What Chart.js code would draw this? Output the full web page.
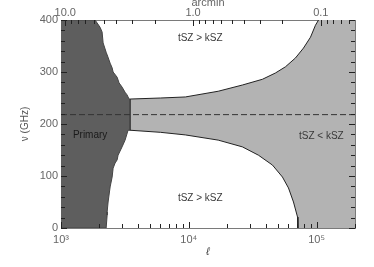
<!DOCTYPE html>
<html>
<head>
<meta charset="utf-8">
<script src="https://cdn.jsdelivr.net/npm/chart.js@4/dist/chart.umd.min.js"></script>
<style>
    body { margin: 0; background: #fff; }
    #wrap { width: 374px; height: 267px; }
</style>
</head>
<body>
<div id="wrap"><canvas id="regions" width="374" height="267"></canvas></div>
<script>
// multipole range and tick sets
const ELL_MIN = 1000;
const ELL_MAX = 200000;
const ellDecades = [1000, 10000, 100000];
const ellDecadeLabels = ["10³", "10⁴", "10⁵"];
const arcDecades = [0.01, 0.1, 1, 10];
const arcDecadeLabels = ["0.01", "0.1", "1.0", "10.0"];
const logSteps = [1, 2, 3, 4, 5, 6, 7, 8, 9];

// primary CMB region boundary (ell, nu), read top to bottom
const primaryEll = [1000, 1848, 2022, 2097, 2136, 2256, 2297, 2424, 2513, 2558, 2750, 2848, 3006, 3174, 3289, 3409, 3476,
    3476, 3348, 3174, 3006, 2798, 2750, 2651, 2558, 2513, 2424, 2337, 2297, 2297, 2256, 1000];
const primaryNu = [400, 400, 386, 377, 356, 338, 333, 317, 308, 300, 290, 279, 271, 261, 256, 248, 248,
    188, 188, 169, 156, 140, 131, 125, 115, 98, 79, 50, 31, 25, 0, 0];

// tSZ = kSZ boundaries (upper and lower branch)
const upperEll = [3476, 6000, 9400, 17000, 26300, 37700, 47600, 57100, 68400, 79000, 89700, 98100, 103700];
const upperNu = [248, 250, 252, 263, 275, 286, 298, 310, 327, 346, 367, 390, 400];
const lowerEll = [3476, 6000, 9400, 17000, 26300, 35100, 45200, 54100, 60300, 66000, 71000, 71500];
const lowerNu = [188, 184, 179, 169, 156, 140, 121, 98, 77, 50, 21, 0];

// tSZ null frequency
const nullNu = 218;

// region labels
const noteText = ["tSZ > kSZ", "Primary", "tSZ < kSZ", "tSZ > kSZ"];
const noteEll = [12300, 1690, 109000, 12300];
const noteNu = [365, 178, 177, 58];
const noteColor = ["#3a3a3a", "#1a1a1a", "#3a3a3a", "#3a3a3a"];

const DARK = "#5e5e5e";
const LIGHT = "#b3b3b3";
const AXIS = "#7a7a7a";
const TICK = "#222222";
const TEXT = "#666666";

Chart.defaults.font.family = "'Liberation Sans', Arial, sans-serif";

function pts(xs, ys) {
    return xs.map((x, i) => ({ x: x, y: ys[i] }));
}

function logTicks(decades, lo, hi) {
    const out = [];
    decades.forEach((d) => {
        logSteps.forEach((s) => {
            const v = +(d * s).toPrecision(6);
            if (v >= lo * 0.999 && v <= hi * 1.001) out.push({ value: v, major: s === 1 });
        });
    });
    return out;
}

const lightShape = pts(upperEll, upperNu)
    .concat([{ x: ELL_MAX, y: 400 }, { x: ELL_MAX, y: 0 }])
    .concat(pts(lowerEll, lowerNu).reverse());

// inward tick marks like the original plot
const inwardTicks = {
    id: "inwardTicks",
    afterDatasetsDraw(chart) {
        const { ctx, chartArea: a } = chart;
        ctx.save();
        ctx.strokeStyle = TICK;
        ctx.lineWidth = 1;
        ["x", "x2", "y", "y2"].forEach((id) => {
            const s = chart.scales[id];
            s.ticks.forEach((t) => {
                const major = s.type === "linear" ? t.value % 100 === 0 : t.major;
                const len = major ? 6 : 4;
                const p = Math.round(s.getPixelForValue(t.value)) + 0.5;
                ctx.beginPath();
                if (id === "x") { ctx.moveTo(p, a.bottom); ctx.lineTo(p, a.bottom - len); }
                if (id === "x2") { ctx.moveTo(p, a.top); ctx.lineTo(p, a.top + len); }
                if (id === "y") { ctx.moveTo(a.left, p); ctx.lineTo(a.left + len, p); }
                if (id === "y2") { ctx.moveTo(a.right, p); ctx.lineTo(a.right - len, p); }
                ctx.stroke();
            });
        });
        ctx.restore();
    },
};

const regionNotes = {
    id: "regionNotes",
    afterDatasetsDraw(chart) {
        const { ctx } = chart;
        const sx = chart.scales.x, sy = chart.scales.y;
        ctx.save();
        ctx.font = "10px 'Liberation Sans', Arial, sans-serif";
        ctx.textAlign = "center";
        ctx.textBaseline = "middle";
        noteText.forEach((txt, i) => {
            ctx.fillStyle = noteColor[i];
            ctx.fillText(txt, sx.getPixelForValue(noteEll[i]), sy.getPixelForValue(noteNu[i]));
        });
        ctx.restore();
    },
};

new Chart(document.getElementById("regions"), {
    type: "line",
    data: {
        datasets: [
            {
                data: [{ x: ELL_MIN, y: nullNu }, { x: ELL_MAX, y: nullNu }],
                borderColor: "#333",
                borderWidth: 1,
                borderDash: [6, 3],
                pointRadius: 0,
                fill: false,
            },
            {
                data: pts(upperEll, upperNu),
                borderColor: "#222",
                borderWidth: 1,
                pointRadius: 0,
                fill: false,
            },
            {
                data: pts(lowerEll, lowerNu),
                borderColor: "#222",
                borderWidth: 1,
                pointRadius: 0,
                fill: false,
            },
            {
                data: pts(primaryEll, primaryNu),
                borderColor: "#444",
                borderWidth: 1,
                backgroundColor: DARK,
                pointRadius: 0,
                fill: "shape",
            },
            {
                data: lightShape,
                borderWidth: 0,
                backgroundColor: LIGHT,
                pointRadius: 0,
                fill: "shape",
            },
        ],
    },
    options: {
        responsive: false,
        animation: false,
        layout: { padding: 0 },
        plugins: { legend: { display: false }, tooltip: { enabled: false } },
        scales: {
            x: {
                type: "logarithmic",
                position: "bottom",
                min: ELL_MIN,
                max: ELL_MAX,
                grid: { display: false, drawTicks: false },
                border: { color: AXIS },
                afterBuildTicks: (s) => { s.ticks = logTicks(ellDecades, ELL_MIN, ELL_MAX); },
                ticks: {
                    autoSkip: false,
                    maxRotation: 0,
                    padding: 5,
                    color: TEXT,
                    font: { size: 11 },
                    callback: (v) => {
                        const i = ellDecades.indexOf(v);
                        return i >= 0 ? ellDecadeLabels[i] : "";
                    },
                },
                title: {
                    display: true,
                    text: "ℓ",
                    color: "#444",
                    font: { size: 11, style: "italic" },
                    padding: { top: 0, bottom: 8 },
                },
                afterFit: (s) => { s.height = 39; },
            },
            x2: {
                type: "logarithmic",
                position: "top",
                reverse: true,
                min: 10800 / ELL_MAX,
                max: 10800 / ELL_MIN,
                grid: { display: false, drawTicks: false },
                border: { color: AXIS },
                afterBuildTicks: (s) => { s.ticks = logTicks(arcDecades, 10800 / ELL_MAX, 10800 / ELL_MIN); },
                ticks: {
                    autoSkip: false,
                    maxRotation: 0,
                    padding: 0,
                    color: TEXT,
                    font: { size: 11 },
                    callback: (v) => {
                        const i = arcDecades.indexOf(v);
                        return i >= 0 ? arcDecadeLabels[i] : "";
                    },
                },
                title: {
                    display: true,
                    text: "arcmin",
                    color: TEXT,
                    font: { size: 11, lineHeight: 0.6 },
                    padding: { top: 0, bottom: 0 },
                },
                afterFit: (s) => { s.height = 20; },
            },
            y: {
                type: "linear",
                position: "left",
                min: 0,
                max: 400,
                grid: { display: false, drawTicks: false },
                border: { color: AXIS },
                ticks: {
                    stepSize: 20,
                    autoSkip: false,
                    padding: 3,
                    color: TEXT,
                    font: { size: 11 },
                    callback: (v) => (v % 100 === 0 ? v : ""),
                },
                title: {
                    display: true,
                    text: "ν (GHz)",
                    color: "#555",
                    font: { size: 10 },
                    padding: { top: 19, bottom: 0 },
                },
                afterFit: (s) => { s.width = 61; },
            },
            y2: {
                type: "linear",
                position: "right",
                min: 0,
                max: 400,
                grid: { display: false, drawTicks: false },
                border: { color: AXIS },
                ticks: { stepSize: 20, autoSkip: false, display: false },
                afterFit: (s) => { s.width = 19; },
            },
        },
    },
    plugins: [inwardTicks, regionNotes],
});
</script>
</body>
</html>
